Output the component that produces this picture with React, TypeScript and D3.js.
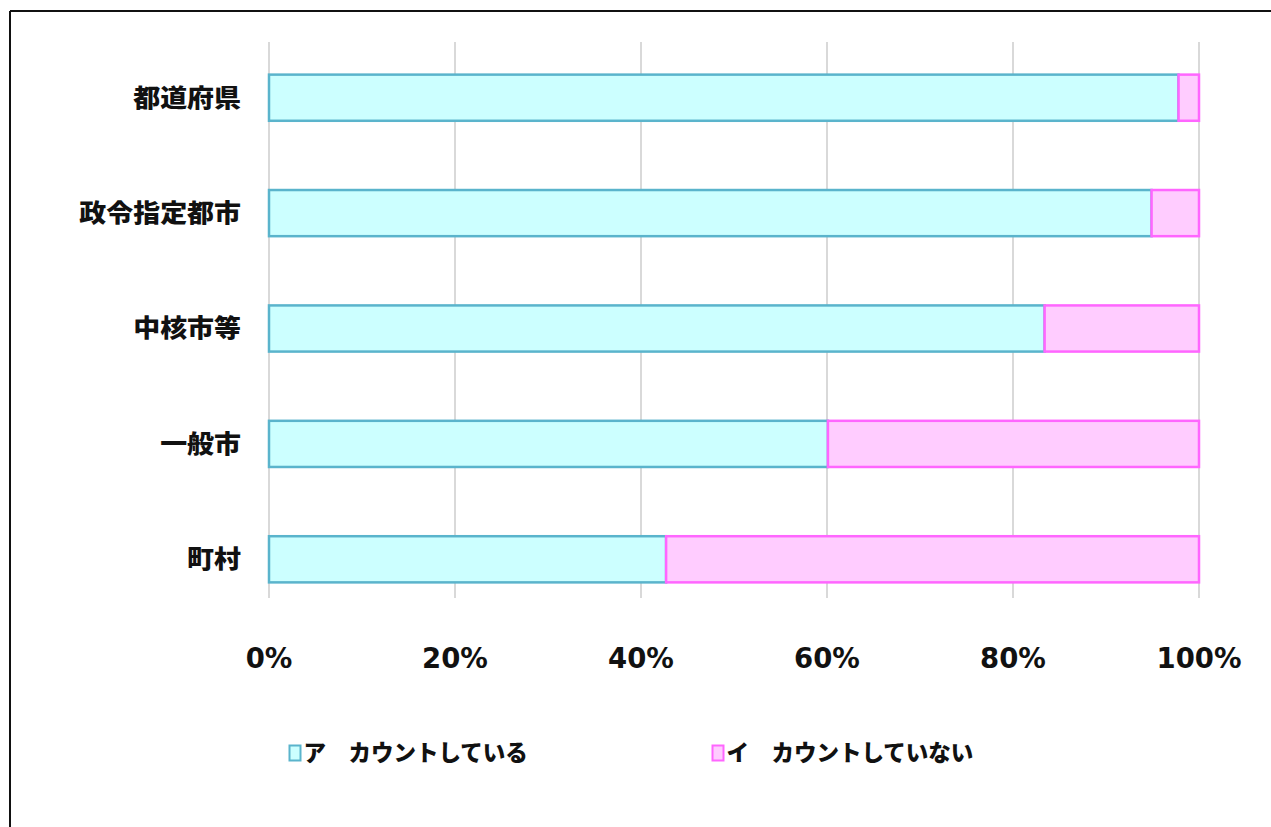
import React from "react";
import * as d3 from "d3";

const categories = ["都道府県", "政令指定都市", "中核市等", "一般市", "町村"];
const countingValues = [97.8, 94.9, 83.4, 60.1, 42.7];
const notCountingValues = [2.2, 5.1, 16.6, 39.9, 57.3];
const seriesNames = ["ア　カウントしている", "イ　カウントしていない"];
const tickValues = [0, 20, 40, 60, 80, 100];

const W = 1271;
const H = 827;
const fills = ["#CCFFFF", "#FFCCFF"];
const strokes = ["#5AB4CC", "#FF66FF"];

export default function App() {
  const x = d3.scaleLinear().domain([0, 100]).range([269, 1199]);
  const y = d3.scaleBand().domain(categories).range([40, 617]).paddingInner(0.6).paddingOuter(0.3);
  const stack = categories.map((c, i) => ({
    cat: c,
    segs: [
      { s: 0, x0: 0, x1: countingValues[i] },
      { s: 1, x0: countingValues[i], x1: countingValues[i] + notCountingValues[i] },
    ],
  }));
  const jp = "'Noto Sans CJK JP', 'Noto Sans', sans-serif";
  return (
    <svg width={W} height={H} style={{ position: "absolute", left: 0, top: 0, background: "#fff" }}>
      <rect x={0} y={0} width={W} height={H} fill="#fff" />
      <line x1={10} y1={11} x2={W} y2={11} stroke="#111" strokeWidth={2} />
      <line x1={10} y1={11} x2={10} y2={H} stroke="#111" strokeWidth={2} />
      {tickValues.map((t) => (
        <g key={t}>
          <line x1={x(t)} x2={x(t)} y1={42} y2={598} stroke="#D9D9D9" strokeWidth={2} />
          <text
            x={x(t)}
            y={668}
            textAnchor="middle"
            fontFamily="'DejaVu Sans', Verdana, sans-serif"
            fontWeight="bold"
            fontSize={27.5}
            fill="#111"
          >
            {t}%
          </text>
        </g>
      ))}
      {stack.map((row) => (
        <g key={row.cat}>
          {row.segs.map((sg) => (
            <rect
              key={sg.s}
              x={x(sg.x0)}
              y={y(row.cat)!}
              width={x(sg.x1) - x(sg.x0)}
              height={y.bandwidth()}
              fill={fills[sg.s]}
              stroke={strokes[sg.s]}
              strokeWidth={2.5}
            />
          ))}
          <g transform={`translate(241,${y(row.cat)! + y.bandwidth() / 2}) scale(1.1,1)`}>
            <text
              x={0}
              y={0}
              dy="0.36em"
              textAnchor="end"
              fontFamily={jp}
              fontWeight="900"
              fontSize={24.5}
              fill="#111"
            >
              {row.cat}
            </text>
          </g>
        </g>
      ))}
      {seriesNames.map((n, i) => {
        const lx = i === 0 ? 289.5 : 712.5;
        return (
          <g key={n}>
            <rect x={lx} y={745.5} width={11} height={15} fill={fills[i]} stroke={strokes[i]} strokeWidth={2} />
            <text x={lx + 14} y={753} dy="0.36em" fontFamily={jp} fontWeight="900" fontSize={22.5} fill="#111">
              {n}
            </text>
          </g>
        );
      })}
    </svg>
  );
}
